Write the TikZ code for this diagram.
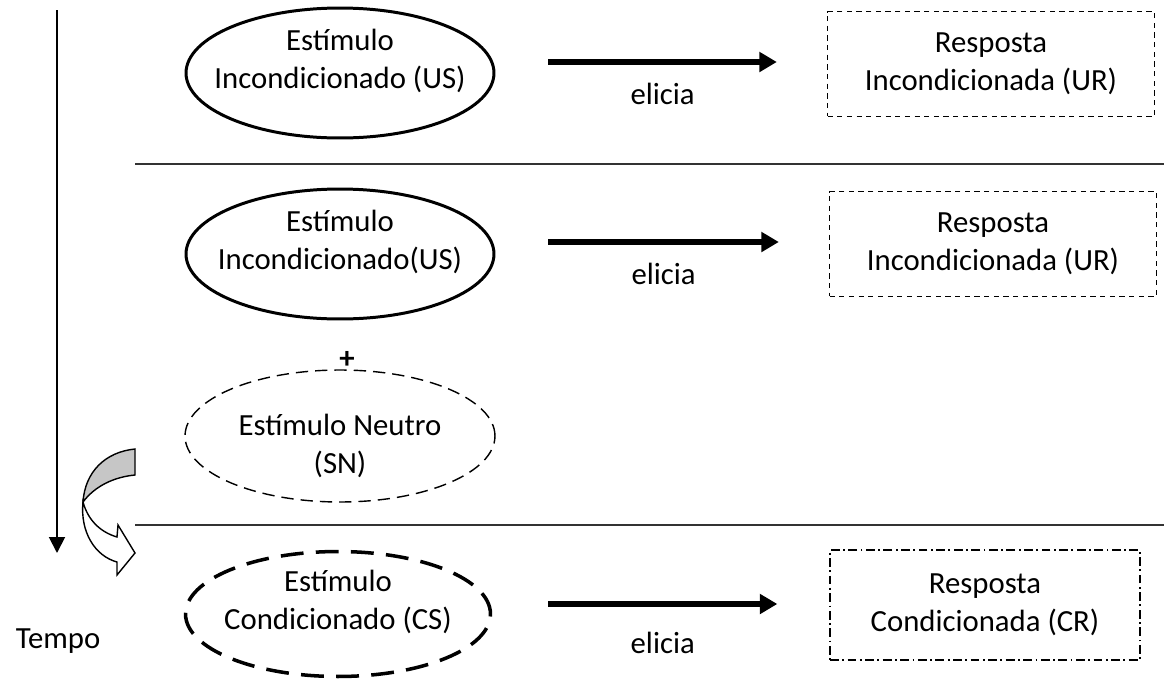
\documentclass[tikz,border=0pt]{standalone}
\usepackage{fontspec}
\setmainfont{Carlito}
\usetikzlibrary{shapes.geometric,arrows.meta,calc}
\tikzset{
  estimulo/.style={ellipse,draw,line width=1.7pt,minimum width=61.6mm,minimum height=26mm,inner sep=0pt},
  neutro/.style={estimulo,line width=0.8pt,dash pattern=on 7pt off 4pt,minimum width=62mm,minimum height=26.4mm},
  condic/.style={estimulo,line width=2pt,dash pattern=on 13pt off 7pt,minimum width=61mm,minimum height=25mm},
  rotulo/.style={align=center,inner sep=0pt},
  resposta/.style={draw,line width=0.8pt,dash pattern=on 3pt off 2.5pt,minimum width=65.4mm,minimum height=21mm,align=center},
  elarrow/.style={line width=3.4pt,-{Triangle[length=10pt,width=11pt]}},
  divisor/.style={line width=0.9pt,black!80}
}
\begin{document}
\begin{tikzpicture}[x=0.02cm,y=-0.02cm,font=\fontsize{17.5}{21.5}\selectfont]
  \useasboundingbox (0,0) rectangle (1164,680);
  % eixo do tempo
  \coordinate (t0) at (57,10);
  \coordinate (t1) at (57,553);
  \draw [line width=1.1pt,-{Triangle[length=9pt,width=9pt]}] (t0) -- (t1);
  \node (tempo) at (58,641) {Tempo};
  % divisorias
  \coordinate (d1a) at (135,164); \coordinate (d1b) at (1164,164);
  \coordinate (d2a) at (135,525); \coordinate (d2b) at (1164,525);
  \draw [divisor] (d1a) -- (d1b);
  \draw [divisor] (d2a) -- (d2b);
  % linha 1
  \node [estimulo] (us1) at (340,73) {};
  \node [rotulo] (us1t) at ($(us1)+(0,-12)$) {Estímulo\\Incondicionado (US)};
  \node [resposta] (ur1) at (991,64) {Resposta\\Incondicionada (UR)};
  \draw [elarrow] ($(us1.east)+(53,-11)$) -- ($(ur1.west)+(-50,-2)$)
    node [midway,below=7pt] (el1) {elicia};
  % linha 2
  \node [estimulo] (us2) at (340,254) {};
  \node [rotulo] (us2t) at ($(us2)+(0,-12)$) {Estímulo\\Incondicionado(US)};
  \node [resposta] (ur2) at (993,244) {Resposta\\Incondicionada (UR)};
  \draw [elarrow] ($(us2.east)+(53,-12)$) -- ($(ur2.west)+(-50,-2)$)
    node [midway,below=7pt] (el2) {elicia};
  \node (mais) at (347,360) {\textbf{+}};
  \node [neutro] (sn) at (340,436) {};
  \node [rotulo] (snt) at ($(sn)+(0,10)$) {Estímulo Neutro\\(SN)};
  % seta curva
  \fill [gray!45] (135,449) .. controls (105,452) and (85,472) .. (83,502)
    .. controls (95,486) and (114,477) .. (135,475) -- cycle;
  \draw [line width=0.8pt] (135,449) .. controls (105,452) and (85,472) .. (83,502)
    .. controls (95,486) and (114,477) .. (135,475) -- cycle;
  \draw [line width=0.8pt,fill=white] (83,502) .. controls (80,532) and (95,556) .. (117,562)
    -- (117,575) -- (135,553) -- (118,525) -- (117,537)
    .. controls (100,532) and (88,520) .. (83,502) -- cycle;
  % linha 3
  \node [condic] (cs) at (338,614) {};
  \node [rotulo] (cst) at ($(cs)+(0,-12)$) {Estímulo\\Condicionado (CS)};
  \node [resposta,dash pattern=on 5pt off 2pt on 1pt off 2pt,minimum width=62mm,minimum height=22mm] (cr) at (985,605) {Resposta\\Condicionada (CR)};
  \draw [elarrow] ($(cs.east)+(56,-10)$) -- ($(cr.west)+(-52,-1)$)
    node [midway,below=11pt] (el3) {elicia};
\end{tikzpicture}
\end{document}
